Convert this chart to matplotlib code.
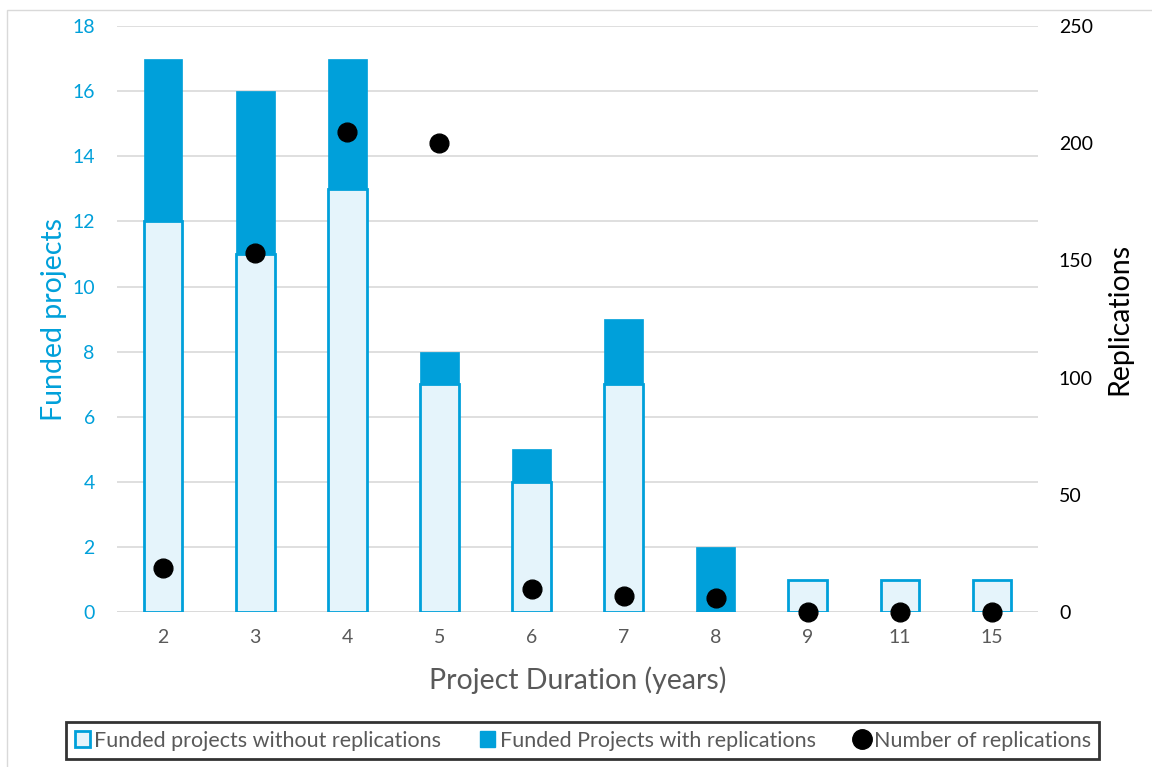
import matplotlib
matplotlib.use("Agg")
import matplotlib.pyplot as plt
from matplotlib.lines import Line2D
from matplotlib.patches import Patch, Rectangle
import numpy as np

durations = ["2", "3", "4", "5", "6", "7", "8", "9", "11", "15"]
without_replications = [12, 11, 13, 7, 4, 7, 0, 1, 1, 1]
with_replications = [5, 5, 4, 1, 1, 2, 2, 0, 0, 0]
replications = [19, 153, 205, 200, 10, 7, 6, 0, 0, 0]

BLUE = "#00A0DA"
LIGHT = "#E5F4FB"
GRID = "#D9D9D9"
GRAY = "#595959"
FONT = "Lato"

plt.rcParams["font.family"] = [FONT, "DejaVu Sans"]

fig = plt.figure(figsize=(11.52, 7.67), dpi=100)
fig.patches.append(Rectangle((0.006, -0.01), 1.1, 0.997, transform=fig.transFigure,
                             fill=False, edgecolor="#D9D9D9", linewidth=1.0))

ax = fig.add_axes([0.1016, 0.202, 0.7995, 0.764])
x = np.arange(len(durations))
w = 0.42

ax.bar(x, without_replications, width=w, color=LIGHT, edgecolor=BLUE, linewidth=2.0, zorder=2)
ax.bar(x, with_replications, width=w, bottom=without_replications, color=BLUE,
       edgecolor=BLUE, linewidth=0.5, zorder=2)

ax.set_xlim(-0.5, len(durations) - 0.5)
ax.set_ylim(0, 18)
ax.set_yticks(range(0, 19, 2))
ax.yaxis.grid(True, color=GRID, linewidth=1.2, zorder=0)
ax.set_axisbelow(True)
for s in ax.spines.values():
    s.set_visible(False)
ax.axhline(0, color=GRID, linewidth=1.2, zorder=1)
ax.set_xticks(x)
ax.set_xticklabels(durations)
ax.tick_params(axis="both", length=0)
ax.tick_params(axis="x", colors=GRAY, labelsize=14, pad=12)
ax.tick_params(axis="y", colors=BLUE, labelsize=14, pad=16)
ax.set_ylabel("Funded projects", color=BLUE, fontsize=20.5, labelpad=4)
ax.set_xlabel("Project Duration (years)", color=GRAY, fontsize=20.5, labelpad=15)

ax2 = ax.twinx()
ax2.set_ylim(0, 250)
ax2.set_yticks(range(0, 251, 50))
ax2.plot(x, replications, "o", color="black", markersize=13.5, zorder=5, clip_on=False)
for s in ax2.spines.values():
    s.set_visible(False)
ax2.tick_params(axis="y", colors="black", labelsize=14, length=0, pad=15)
ax2.set_ylabel("Replications", color="black", fontsize=20.5, labelpad=10)

handles = [
    Patch(facecolor=LIGHT, edgecolor=BLUE, linewidth=2, label="Funded projects without replications"),
    Patch(facecolor=BLUE, edgecolor=BLUE, label="Funded Projects with replications"),
    Line2D([], [], marker="o", linestyle="none", color="black", markersize=14,
           label="Number of replications"),
]
leg = fig.legend(handles=handles, loc="center", bbox_to_anchor=(0.506, 0.0345), ncol=3,
                 frameon=True, fontsize=15.5, handlelength=0.7, handleheight=0.7,
                 handletextpad=0.2, columnspacing=1.8, borderpad=0.4, fancybox=False)
leg.get_frame().set_edgecolor("black")
leg.get_frame().set_linewidth(2)
for t in leg.get_texts():
    t.set_color(GRAY)

fig.savefig("out.png", dpi=100)
